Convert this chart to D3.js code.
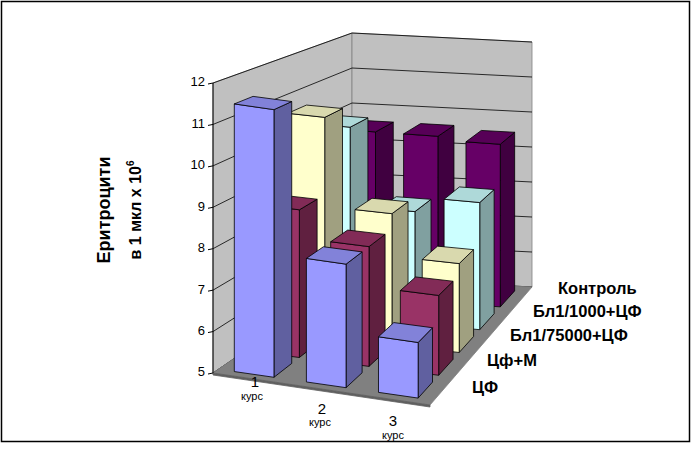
<!DOCTYPE html>
<html>
<head>
<meta charset="utf-8">
<script src="https://cdn.jsdelivr.net/npm/d3@7"></script>
<style>
  body { margin: 0; background: #fff; }
  text { font-family: "Liberation Sans", Arial, sans-serif; }
</style>
</head>
<body>
<svg id="chart" width="692" height="450"></svg>
<script>
// data
const categories = ['1', '2', '3'];
const series = ['ЦФ', 'Цф+М', 'Бл1/75000+ЦФ', 'Бл1/1000+ЦФ', 'Контроль'];
const values = [
    [11.5, 8.0, 6.35],  // ЦФ
    [8.7, 8.0, 7.0],    // Цф+М
    [10.7, 8.4, 7.3],   // Бл1/75000+ЦФ
    [10.1, 8.0, 8.4],   // Бл1/1000+ЦФ
    [9.6, 9.6, 9.5]     // Контроль
];
const yTicks = [5, 6, 7, 8, 9, 10, 11, 12];
const colors = ['#9999ff', '#993366', '#ffffcc', '#ccffff', '#660066'];

const svg = d3.select('#chart');

// floor corners of the box (front-left, front-right, back-left, back-right)
const FL = [213, 373], FR = [430, 405], BL = [352, 278], BR = [532, 287];
const uScale = d3.scaleBand().domain(categories).range([0, 1]).paddingInner(0.45).paddingOuter(0.22);
const vScale = d3.scaleBand().domain(series).range([0, 1]).paddingInner(0.3).paddingOuter(0.2);
const hScale = d3.scaleLinear().domain([0, 1]).range([290 / 7, 245 / 7]); // px per unit by depth
const yMin = 5;

function proj(u, v, val) {
    const fx = FL[0] + (FR[0] - FL[0]) * u, fy = FL[1] + (FR[1] - FL[1]) * u;
    const bx = BL[0] + (BR[0] - BL[0]) * u, by = BL[1] + (BR[1] - BL[1]) * u;
    const x = fx + (bx - fx) * v, y = fy + (by - fy) * v;
    return [x, y - (val - yMin) * hScale(v)];
}
const line = d3.line();
function poly(pts, fill, stroke) {
    svg.append('path').attr('d', line(pts) + 'Z')
        .attr('fill', fill).attr('stroke', stroke || '#000').attr('stroke-width', 0.8)
        .attr('stroke-linejoin', 'round');
}

// border
svg.append('rect').attr('x', 1.5).attr('y', 1.5).attr('width', 688).attr('height', 440)
    .attr('fill', 'none').attr('stroke', '#000').attr('stroke-width', 1.5);

// walls
poly([proj(0, 0, 5), proj(0, 0, 12), proj(0, 1, 12), proj(0, 1, 5)], '#c0c0c0', '#808080');
poly([proj(0, 1, 5), proj(0, 1, 12), proj(1, 1, 12), proj(1, 1, 5)], '#c0c0c0', '#808080');
yTicks.forEach(t => {
    svg.append('path').attr('d', line([proj(0, 0, t), proj(0, 1, t), proj(1, 1, t)]))
        .attr('fill', 'none').attr('stroke', '#000').attr('stroke-width', 0.8);
});
// floor
poly([proj(0, 0, 5), proj(1, 0, 5), proj(1, 1, 5), proj(0, 1, 5)], '#808080', '#808080');
poly([proj(0, 0, 5), proj(1, 0, 5), [proj(1, 0, 5)[0], proj(1, 0, 5)[1] + 2], [proj(0, 0, 5)[0], proj(0, 0, 5)[1] + 2]], '#606060', '#606060');

// axis
svg.append('line').attr('x1', proj(0, 0, 5)[0]).attr('y1', proj(0, 0, 5)[1])
    .attr('x2', proj(0, 0, 12)[0]).attr('y2', proj(0, 0, 12)[1]).attr('stroke', '#000');
yTicks.forEach(t => {
    const p = proj(0, 0, t);
    svg.append('line').attr('x1', p[0] - 5).attr('y1', p[1] + 1).attr('x2', p[0]).attr('y2', p[1]).attr('stroke', '#000');
    svg.append('text').attr('x', p[0] - 8).attr('y', p[1]).attr('text-anchor', 'end')
        .attr('dominant-baseline', 'middle').attr('font-size', 13).text(t);
});

// bars, back to front, right to left
const shade = (c, k) => d3.color(c).darker(k).formatHex();
for (let j = series.length - 1; j >= 0; j--) {
    for (let i = categories.length - 1; i >= 0; i--) {
        const u0 = uScale(categories[i]), u1 = u0 + uScale.bandwidth();
        const v0 = vScale(series[j]), v1 = v0 + vScale.bandwidth();
        const val = values[j][i], c = colors[j];
        poly([proj(u1, v0, 5), proj(u1, v0, val), proj(u1, v1, val), proj(u1, v1, 5)], shade(c, 1.3));
        poly([proj(u0, v0, 5), proj(u0, v0, val), proj(u1, v0, val), proj(u1, v0, 5)], c);
        poly([proj(u0, v0, val), proj(u0, v1, val), proj(u1, v1, val), proj(u1, v0, val)], shade(c, 0.45));
    }
}

// category labels
const catPos = [[255, 387, 252, 400], [322, 414, 320, 426], [393, 426, 393, 439]];
categories.forEach((c, i) => {
    const p = catPos[i];
    svg.append('text').attr('x', p[0]).attr('y', p[1]).attr('text-anchor', 'middle').attr('font-size', 15).text(c);
    svg.append('text').attr('x', p[2]).attr('y', p[3]).attr('text-anchor', 'middle').attr('font-size', 11).text('курс');
});

// series labels
const serPos = [[472, 389], [487, 362], [510, 337], [533, 313], [558, 290]];
series.forEach((s, j) => {
    svg.append('text').attr('x', serPos[j][0]).attr('y', serPos[j][1]).attr('dominant-baseline', 'middle')
        .attr('font-size', 16.5).attr('font-weight', 'bold').text(s);
});

// y title
const tg = svg.append('g');
tg.append('text').attr('transform', 'translate(110,210) rotate(-90)').attr('text-anchor', 'middle')
    .attr('font-size', 18).attr('font-weight', 'bold').text('Еритроцити');
const t2 = tg.append('text').attr('transform', 'translate(141,210) rotate(-90)').attr('text-anchor', 'middle')
    .attr('font-size', 16).attr('font-weight', 'bold');
t2.append('tspan').text('в 1 мкл х 10');
t2.append('tspan').attr('font-size', 10).attr('dy', -7).text('6');
</script>
</body>
</html>
